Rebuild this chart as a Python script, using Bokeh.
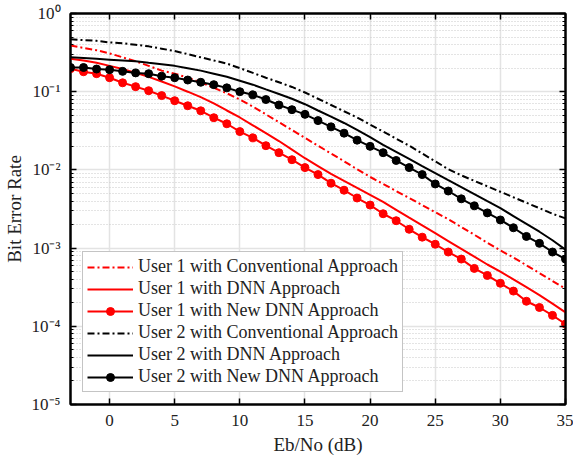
from bokeh.plotting import figure
from bokeh.models import (LinearAxis, LogAxis, FixedTicker, CustomJSTickFormatter,
                          ColumnDataSource)
from bokeh.embed import file_html
from bokeh.resources import INLINE

ebno = list(range(-3, 36))

user1_conv = [0.389, 0.363, 0.339, 0.309, 0.275, 0.245, 0.214, 0.186, 0.170, 0.151,
              0.132, 0.112, 0.0955, 0.0794, 0.0646, 0.0513, 0.0407, 0.0324, 0.0257, 0.0204,
              0.0162, 0.0129, 0.0102, 8.13e-3, 6.61e-3, 5.37e-3, 4.37e-3, 3.55e-3, 2.88e-3, 2.34e-3,
              1.86e-3, 1.48e-3, 1.17e-3, 9.33e-4, 7.59e-4, 6.03e-4, 4.79e-4, 3.80e-4, 3.02e-4]
user1_dnn = [0.263, 0.251, 0.234, 0.214, 0.195, 0.174, 0.155, 0.135, 0.117, 0.100,
             0.0851, 0.0708, 0.0575, 0.0468, 0.0372, 0.0295, 0.0234, 0.0182, 0.0141, 0.0112,
             8.91e-3, 7.24e-3, 5.89e-3, 4.79e-3, 3.89e-3, 3.09e-3, 2.45e-3, 1.95e-3, 1.55e-3, 1.23e-3,
             9.77e-4, 7.76e-4, 6.17e-4, 5.01e-4, 3.98e-4, 3.16e-4, 2.51e-4, 1.95e-4, 1.51e-4]
user1_new = [0.197, 0.180, 0.170, 0.151, 0.130, 0.116, 0.103, 0.0891, 0.0767, 0.0661,
             0.0570, 0.0465, 0.0389, 0.0309, 0.0257, 0.0204, 0.0166, 0.0135, 0.0107, 8.71e-3,
             6.76e-3, 5.50e-3, 4.37e-3, 3.55e-3, 2.75e-3, 2.24e-3, 1.74e-3, 1.38e-3, 1.12e-3, 8.91e-4,
             7.24e-4, 5.50e-4, 4.47e-4, 3.55e-4, 2.82e-4, 2.09e-4, 1.74e-4, 1.38e-4, 1.07e-4]
user2_conv = [0.468, 0.457, 0.447, 0.427, 0.417, 0.398, 0.380, 0.355, 0.331, 0.302,
              0.275, 0.251, 0.229, 0.200, 0.174, 0.151, 0.132, 0.115, 0.0977, 0.0813,
              0.0676, 0.0562, 0.0468, 0.0380, 0.0309, 0.0251, 0.0204, 0.0162, 0.0129, 0.0102,
              8.51e-3, 7.24e-3, 6.17e-3, 5.25e-3, 4.47e-3, 3.80e-3, 3.24e-3, 2.75e-3, 2.40e-3]
user2_dnn = [0.275, 0.269, 0.263, 0.257, 0.251, 0.245, 0.234, 0.224, 0.214, 0.200,
             0.186, 0.170, 0.155, 0.138, 0.123, 0.107, 0.0933, 0.0813, 0.0692, 0.0575,
             0.0479, 0.0398, 0.0324, 0.0263, 0.0209, 0.0170, 0.0138, 0.0112, 9.12e-3, 7.41e-3,
             6.03e-3, 4.90e-3, 3.98e-3, 3.24e-3, 2.57e-3, 2.04e-3, 1.62e-3, 1.26e-3, 9.55e-4]
user2_new = [0.204, 0.204, 0.195, 0.191, 0.182, 0.174, 0.170, 0.158, 0.151, 0.141,
             0.132, 0.123, 0.112, 0.100, 0.0912, 0.0794, 0.0676, 0.0589, 0.0513, 0.0427,
             0.0355, 0.0295, 0.0240, 0.0200, 0.0166, 0.0132, 0.0107, 8.71e-3, 6.61e-3, 5.37e-3,
             4.27e-3, 3.47e-3, 2.82e-3, 2.29e-3, 1.82e-3, 1.41e-3, 1.15e-3, 8.91e-4, 7.24e-4]

x_ticks = [0, 5, 10, 15, 20, 25, 30, 35]
y_ticks = [1e-5, 1e-4, 1e-3, 1e-2, 1e-1, 1.0]
y_tick_labels = ["10\u207b\u2075", "10\u207b\u2074", "10\u207b\u00b3", "10\u207b\u00b2", "10\u207b\u00b9", "10\u2070"]

labels = ["User 1 with Conventional Approach", "User 1 with DNN Approach",
          "User 1 with New DNN Approach", "User 2 with Conventional Approach",
          "User 2 with DNN Approach", "User 2 with New DNN Approach"]

FONT = "Liberation Serif"
RED = "#ff0000"
BLACK = "#000000"

p = figure(width=573, height=460, x_range=(-3, 35), y_range=(1e-5, 1),
           y_axis_type="log", output_backend="svg", toolbar_location=None,
           min_border_left=70, min_border_top=13, min_border_right=8, min_border_bottom=56,
           background_fill_color="white", border_fill_color="white")

bottom = p.below[0]
left = p.left[0]

minor = [m * d for d in y_ticks[:-1] for m in range(2, 10)]
yticker = FixedTicker(ticks=y_ticks, minor_ticks=minor)
xticker = FixedTicker(ticks=x_ticks, minor_ticks=[])
yfmt = CustomJSTickFormatter(args=dict(yt=y_ticks, yl=y_tick_labels), code="""
let best = 0, d = Infinity;
for (let i = 0; i < yt.length; i++) {
  const dd = Math.abs(Math.log10(yt[i]) - Math.log10(tick));
  if (dd < d) { d = dd; best = i; }
}
return yl[best];
""")

src = ColumnDataSource(dict(x=ebno, u1c=user1_conv, u1d=user1_dnn, u1n=user1_new,
                            u2c=user2_conv, u2d=user2_dnn, u2n=user2_new))
DD = "7 3 2 3"
p.line("x", "u1c", source=src, color=RED, line_width=2, line_dash=DD, legend_label=labels[0])
p.line("x", "u1d", source=src, color=RED, line_width=2, legend_label=labels[1])
p.line("x", "u1n", source=src, color=RED, line_width=2, legend_label=labels[2])
p.scatter("x", "u1n", source=src, color=RED, size=8, marker="circle", legend_label=labels[2])
p.line("x", "u2c", source=src, color=BLACK, line_width=2, line_dash=DD, legend_label=labels[3])
p.line("x", "u2d", source=src, color=BLACK, line_width=2, legend_label=labels[4])
p.line("x", "u2n", source=src, color=BLACK, line_width=2, legend_label=labels[5])
p.scatter("x", "u2n", source=src, color=BLACK, size=8, marker="circle", legend_label=labels[5])

top = LinearAxis(ticker=xticker)
right = LogAxis(ticker=yticker)
p.add_layout(top, "above")
p.add_layout(right, "right")

bottom.ticker = xticker
left.ticker = yticker

for ax in [bottom, left, top, right]:
    ax.axis_line_color = "black"
    ax.axis_line_width = 2
    ax.major_tick_line_color = "black"
    ax.major_tick_line_width = 1.5
    ax.major_tick_in = 6
    ax.major_tick_out = 0
    ax.minor_tick_in = 3
    ax.minor_tick_out = 0
    ax.minor_tick_line_color = "black"
    ax.major_label_text_font = FONT
    ax.major_label_text_color = "#222222"
    ax.axis_label_text_font = FONT
    ax.axis_label_text_font_style = "normal"
    ax.axis_label_text_color = "#222222"

for ax in [top, right]:
    ax.major_label_text_font_size = "1px"
    ax.major_label_text_alpha = 0
    ax.major_label_standoff = 0

bottom.major_label_text_font_size = "17px"
bottom.major_label_standoff = 10
bottom.axis_label = "Eb/No (dB)"
bottom.axis_label_text_font_size = "19px"
bottom.axis_label_standoff = 5

left.formatter = yfmt
left.major_label_text_font_size = "17px"
left.major_label_standoff = 10
left.axis_label = "Bit Error Rate"
left.axis_label_text_font_size = "19px"
left.axis_label_standoff = 4

p.outline_line_color = "black"
p.outline_line_width = 2

p.xgrid.grid_line_color = "#e3e3e3"
p.xgrid.grid_line_width = 1.5
p.ygrid.grid_line_color = "#e3e3e3"
p.ygrid.grid_line_width = 1.5
p.ygrid.minor_grid_line_color = "#c8c8c8"
p.ygrid.minor_grid_line_dash = "1 2"
p.ygrid.minor_grid_line_width = 1

lg = p.legend[0]
lg.location = "bottom_left"
lg.margin = 12
lg.padding = 4
lg.spacing = 1
lg.label_height = 20
lg.glyph_height = 20
lg.glyph_width = 46
lg.label_standoff = 5
lg.label_text_font = FONT
lg.label_text_font_size = "18px"
lg.label_text_color = "#222222"
lg.border_line_color = "#8a8a8a"
lg.border_line_width = 1.5
lg.background_fill_color = "white"
lg.background_fill_alpha = 1

open("out.html", "w").write(file_html(p, INLINE))
